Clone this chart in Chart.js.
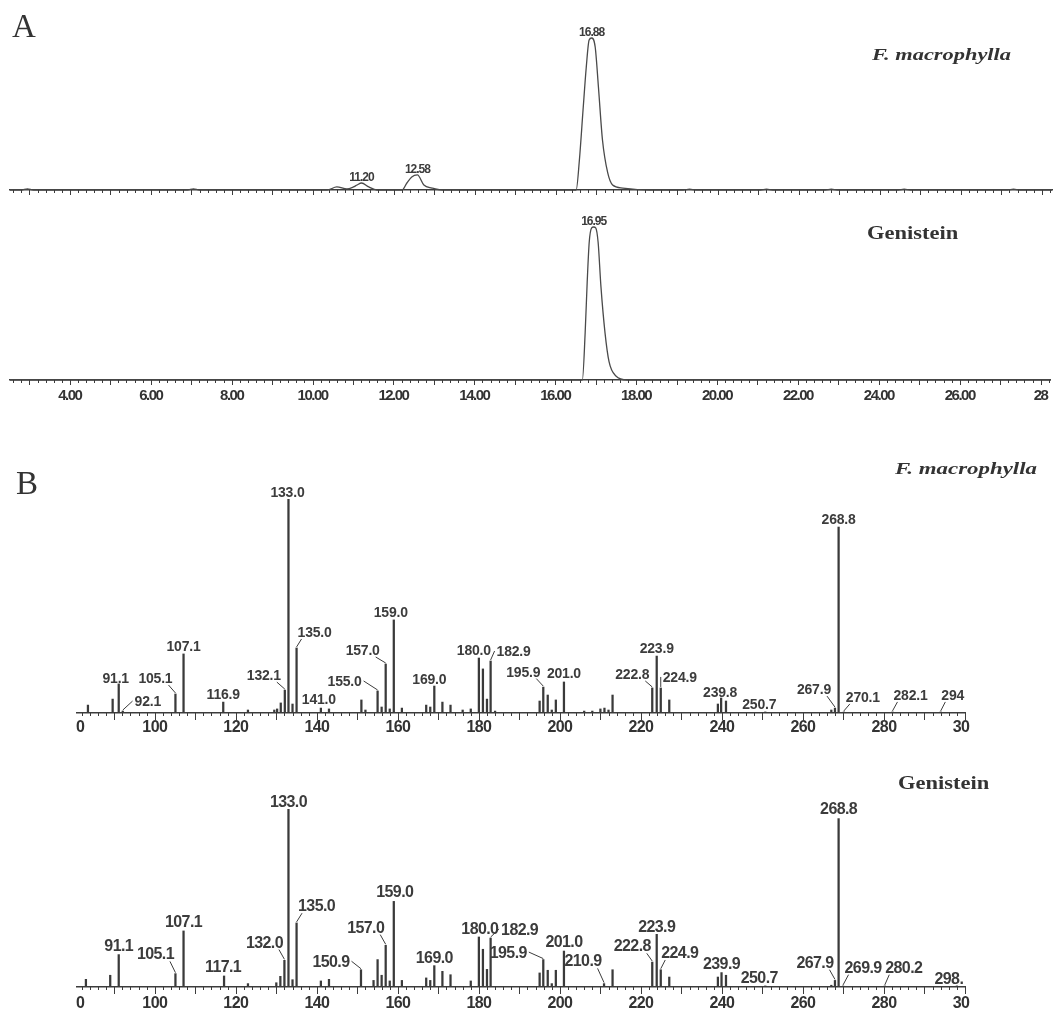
<!DOCTYPE html>
<html>
<head>
<meta charset="utf-8">
<script src="https://cdn.jsdelivr.net/npm/chart.js@4.4.1/dist/chart.umd.min.js"></script>
<style>
  html, body { margin: 0; padding: 0; background: #fff; }
  #wrap { position: relative; width: 1056px; height: 1012px; overflow: hidden; }
  #wrap canvas { position: absolute; left: 0; top: 0; }
  .t { position: absolute; color: #333; white-space: nowrap; line-height: 1; transform-origin: 0 0;
       font-family: 'Liberation Serif', 'Times New Roman', serif; }
</style>
</head>
<body>
<div id="wrap">
  <canvas id="chromFm" width="1056" height="1012"></canvas>
  <canvas id="chromGn" width="1056" height="1012"></canvas>
  <canvas id="msFm" width="1056" height="1012"></canvas>
  <canvas id="msGn" width="1056" height="1012"></canvas>

  <div class="t" style="left:12px;top:10px;font-size:33px;">A</div>
  <div class="t" style="left:872px;top:47px;font-size:16px;font-weight:bold;font-style:italic;transform:scaleX(1.4);">F. macrophylla</div>
  <div class="t" style="left:867px;top:224px;font-size:18px;font-weight:bold;transform:scaleX(1.25);">Genistein</div>
  <div class="t" style="left:16px;top:467px;font-size:33px;">B</div>
  <div class="t" style="left:895px;top:461px;font-size:16px;font-weight:bold;font-style:italic;transform:scaleX(1.43);">F. macrophylla</div>
  <div class="t" style="left:898px;top:774px;font-size:18px;font-weight:bold;transform:scaleX(1.25);">Genistein</div>
</div>
<script>
// ---- panel A : chromatograms (time in min, response in % of main peak)
const fmTime = [2.52, 2.8, 2.95, 3.1, 6.9, 7.05, 7.2, 10.35, 10.59, 10.84, 11.0, 11.09, 11.2, 11.38, 11.58,
  12.2, 12.32, 12.44, 12.58, 12.74, 12.94, 13.19, 16.5, 16.58, 16.67, 16.75, 16.82, 16.88, 16.97, 17.05,
  17.15, 17.28, 17.4, 17.65, 18.3, 19.15, 19.3, 19.45, 21.05, 21.2, 21.35, 22.65, 22.8, 22.95, 24.45,
  24.6, 24.75, 27.15, 27.3, 27.45, 28.25];
const fmResp = [0, 0, 0.7, 0, 0, 0.7, 0, 0, 2.0, 0.7, 2.0, 3.3, 4.6, 2.0, 0,
  0, 4.6, 8.6, 9.9, 3.3, 1.3, 0, 0, 19.7, 52.6, 80.9, 98.7, 100, 94.1, 67.8,
  32.9, 11.2, 3.3, 1.3, 0, 0, 0.6, 0, 0, 0.6, 0, 0, 0.6, 0, 0,
  0.6, 0, 0, 0.6, 0, 0];
const fmPeaks = ['11.20', '12.58', '16.88'];

const gnTime = [2.52, 16.67, 16.74, 16.79, 16.84, 16.9, 16.95, 17.0, 17.06, 17.13, 17.23, 17.33, 17.5, 17.78, 28.25];
const gnResp = [0, 0, 31, 64, 90, 99.4, 100, 99.4, 90, 61, 31, 12, 2.6, 0, 0];
const gnPeaks = ['16.95'];

const timeTicks = [4, 6, 8, 10, 12, 14, 16, 18, 20, 22, 24, 26, 28];
const timeTickText = ['4.00', '6.00', '8.00', '10.00', '12.00', '14.00', '16.00', '18.00', '20.00', '22.00', '24.00', '26.00', '28'];

// ---- panel B : mass spectra (m/z, relative abundance %)
const fmMz = [83.5, 89.6, 91.1, 92.1, 105.1, 107.1, 116.9, 123.0, 129.5, 130.2, 131.1, 132.1, 133.0, 134.0, 135.0,
  141.0, 143.0, 151.0, 152.0, 155.0, 156.0, 157.0, 158.0, 159.0, 161.0, 167.0, 168.0, 169.0, 171.0, 173.0,
  176.0, 178.0, 180.0, 181.0, 182.0, 182.9, 184.0, 195.0, 195.9, 197.0, 198.0, 199.0, 201.0, 206.0, 208.0,
  210.0, 211.0, 212.0, 213.0, 222.8, 223.9, 224.9, 227.0, 239.0, 239.8, 241.0, 250.7, 267.0, 267.9, 268.8,
  270.1, 282.1, 294.0];
const fmInt = [3.7, 6.5, 13.6, 0.9, 8.9, 27.6, 5.1, 1.4, 1.4, 1.9, 4.7, 10.7, 100, 4.2, 30.4,
  2.3, 1.9, 6.1, 1.4, 10.3, 2.8, 22.9, 1.9, 43.5, 2.3, 3.7, 2.8, 12.6, 5.1, 3.7,
  1.4, 1.9, 25.7, 20.6, 6.5, 24.3, 0.9, 5.6, 12.1, 8.4, 1.4, 6.1, 14.5, 0.9, 0.9,
  1.9, 2.3, 1.4, 8.4, 11.7, 26.6, 11.7, 6.1, 4.2, 7.0, 5.6, 0.5, 1.4, 2.3, 86.9,
  0.5, 0.5, 0.5];
const fmLabels = ['91.1', '92.1', '105.1', '107.1', '116.9', '132.1', '133.0', '135.0', '141.0', '155.0', '157.0',
  '159.0', '169.0', '180.0', '182.9', '195.9', '201.0', '222.8', '223.9', '224.9', '239.8', '250.7', '267.9',
  '268.8', '270.1', '282.1', '294'];

const gnMz = [83.0, 89.0, 91.1, 105.1, 107.1, 117.1, 123.0, 130.0, 131.0, 132.0, 133.0, 134.0, 135.0, 141.0, 143.0,
  150.9, 154.0, 155.0, 156.0, 157.0, 158.0, 159.0, 161.0, 167.0, 168.0, 169.0, 171.0, 173.0, 178.0, 180.0,
  181.0, 182.0, 182.9, 195.0, 195.9, 197.0, 198.0, 199.0, 201.0, 210.9, 213.0, 222.8, 223.9, 224.9, 227.0,
  239.0, 239.9, 241.0, 250.7, 267.0, 267.9, 268.8, 269.9, 280.2, 298.0];
const gnInt = [4.3, 6.6, 18.2, 7.5, 31.5, 6.2, 1.9, 2.4, 6.0, 15.0, 100, 4.1, 36.0, 3.4, 4.3,
  9.7, 3.7, 15.4, 6.6, 23.4, 3.4, 48.1, 3.7, 5.1, 3.7, 12.0, 8.8, 6.9, 3.4, 28.1,
  21.2, 9.9, 27.5, 7.9, 15.4, 9.4, 1.9, 9.4, 20.2, 1.9, 9.7, 14.0, 29.6, 9.7, 5.6,
  5.6, 8.1, 6.6, 0.6, 1.0, 3.7, 94.6, 0.6, 0.6, 0.6];
const gnLabels = ['91.1', '105.1', '107.1', '117.1', '132.0', '133.0', '135.0', '150.9', '157.0', '159.0', '169.0',
  '180.0', '182.9', '195.9', '201.0', '210.9', '222.8', '223.9', '224.9', '239.9', '250.7', '267.9', '268.8',
  '269.9', '280.2', '298.'];

const mzTicks = [81.6, 100, 120, 140, 160, 180, 200, 220, 240, 260, 280, 299];
const mzTickText = ['0', '100', '120', '140', '160', '180', '200', '220', '240', '260', '280', '30'];

// label placement (pixels: dx from the bar, rise of label centre above bar top)
const fmLabelPos = {
  '91.1': [-3, 6], '92.1': [25, 10], '105.1': [-20, 16], '107.1': [0, 7.5], '116.9': [0, 8], '132.1': [-21, 15],
  '133.0': [-1, 7.5], '135.0': [18, 16], '141.0': [-2, 9], '155.0': [-33, 10], '157.0': [-23, 14], '159.0': [-3, 8],
  '169.0': [-5, 7], '180.0': [-5, 8], '182.9': [23, 10], '195.9': [-20, 15.5], '201.0': [0, 9], '222.8': [-20, 14],
  '223.9': [0, 8], '224.9': [19, 11], '239.8': [-1, 6], '250.7': [-6, 8], '267.9': [-21, 19], '268.8': [0, 8],
  '270.1': [19, 15], '282.1': [18, 17], '294': [12, 17]
};
const gnLabelPos = {
  '91.1': [0, 9.5], '105.1': [-20, 20], '107.1': [0, 9.5], '117.1': [-1, 10], '132.0': [-20, 18.5], '133.0': [0, 8],
  '135.0': [20, 17.5], '150.9': [-30, 8.5], '157.0': [-20, 18.5], '159.0': [1, 10.5], '169.0': [0, 8.5],
  '180.0': [1, 9], '182.9': [29, 9], '195.9': [-35, 7.5], '201.0': [0, 10], '210.9': [-21, 23], '222.8': [-20, 16.5],
  '223.9': [0, 8], '224.9': [19, 17.5], '239.9': [0, 9.5], '250.7': [-6, 9], '267.9': [-20, 18.5], '268.8': [0, 10],
  '269.9': [20, 19], '280.2': [19, 19], '298.': [-8, 8]
};

const INK = '#3c3c3c';
const SANS = "'Liberation Sans', Arial, sans-serif";

// tighter letter spacing for the axis labels (chart.js has no option for it)
const letterSpace = {
  id: 'letterSpace',
  beforeDraw(chart, args, opts) { chart.ctx.letterSpacing = opts.value || '0px'; },
  afterDraw(chart) { chart.ctx.letterSpacing = '0px'; }
};

// small + large tick marks hanging under the x axis line
const axisTicks = {
  id: 'axisTicks',
  afterDraw(chart, args, opts) {
    if (!opts.step) return;
    const { ctx, chartArea } = chart;
    const x = chart.scales.x;
    const y0 = chartArea.bottom;
    ctx.save();
    ctx.strokeStyle = INK;
    ctx.lineWidth = 1;
    const n0 = Math.ceil(x.min / opts.step - 1e-9);
    const n1 = Math.floor(x.max / opts.step + 1e-9);
    for (let n = n0; n <= n1; n++) {
      const v = n * opts.step;
      const r = v / opts.major;
      const major = Math.abs(r - Math.round(r)) < 1e-6;
      const px = Math.round(x.getPixelForValue(v)) + 0.5;
      ctx.beginPath();
      ctx.moveTo(px, y0);
      ctx.lineTo(px, y0 + (major ? opts.majorLen : opts.minorLen));
      ctx.stroke();
    }
    ctx.restore();
  }
};

// peak labels, with a leader line when the label sits to one side
const peakLabels = {
  id: 'peakLabels',
  afterDatasetsDraw(chart, args, opts) {
    if (!opts.labels) return;
    const { ctx } = chart;
    const x = chart.scales.x, y = chart.scales.y;
    const pts = chart.data.datasets[0].data;
    ctx.save();
    ctx.font = opts.font;
    ctx.fillStyle = INK;
    ctx.strokeStyle = INK;
    ctx.lineWidth = 1;
    ctx.textAlign = 'center';
    ctx.textBaseline = 'alphabetic';
    ctx.letterSpacing = opts.spacing || '0px';
    opts.labels.forEach(text => {
      const v = parseFloat(text);
      let best = pts[0];
      pts.forEach(p => { if (Math.abs(p.x - v) < Math.abs(best.x - v)) best = p; });
      const bx = x.getPixelForValue(best.x);
      const by = y.getPixelForValue(best.y);
      const off = (opts.pos && opts.pos[text]) || [0, opts.gap];
      const cx = bx + off[0];
      const cy = by - off[1];
      const w = ctx.measureText(text).width;
      ctx.fillText(text, cx, cy + opts.cap / 2);
      if (Math.abs(off[0]) >= 12) {
        const side = off[0] < 0 ? 1 : -1;
        let ex = cx + side * (w / 2 - 4);
        let ey = cy + opts.cap / 2 + 2;
        if (by - ey < 6) {
          ex = cx + side * (w / 2 + 2);
          ey = cy;
        }
        ctx.beginPath();
        ctx.moveTo(bx, by - 1);
        ctx.lineTo(ex, ey);
        ctx.stroke();
      }
    });
    ctx.restore();
  }
};

Chart.register(letterSpace, axisTicks, peakLabels);

function toPoints(xs, ys) {
  return xs.map((v, i) => ({ x: v, y: ys[i] }));
}

function chromChart(id, time, resp, peaks, pad, showLabels) {
  return new Chart(document.getElementById(id), {
    type: 'line',
    data: {
      datasets: [{
        data: toPoints(time, resp),
        borderColor: '#4a4a4a',
        borderWidth: 1.3,
        pointRadius: 0,
        cubicInterpolationMode: 'monotone',
        clip: 6
      }]
    },
    options: {
      responsive: false,
      animation: false,
      devicePixelRatio: 1,
      events: [],
      layout: { padding: pad },
      plugins: {
        legend: { display: false },
        tooltip: { enabled: false },
        letterSpace: { value: '-1.5px' },
        axisTicks: { step: 0.2, major: 1, minorLen: 3, majorLen: 5 },
        peakLabels: { labels: peaks, gap: 6, cap: 8.6, font: 'bold 12px ' + SANS, spacing: '-1px' }
      },
      scales: {
        x: {
          type: 'linear',
          min: 2.52,
          max: 28.25,
          grid: { display: false, drawTicks: false },
          border: { display: true, color: INK, width: 1.5 },
          afterBuildTicks: s => { s.ticks = timeTicks.map(v => ({ value: v })); },
          afterFit: s => { s.height = showLabels ? 24 : 20; },
          ticks: {
            display: showLabels,
            autoSkip: false,
            maxRotation: 0,
            padding: 7,
            color: '#333',
            font: { family: SANS, size: 15, weight: 'bold' },
            callback: (v, i) => timeTickText[i]
          }
        },
        y: { display: false, min: 0, max: 100 }
      }
    }
  });
}

function specChart(id, mz, inten, labels, pos, pad, labelFont, cap, spacing, tickPad) {
  return new Chart(document.getElementById(id), {
    type: 'bar',
    data: {
      datasets: [{
        data: toPoints(mz, inten),
        backgroundColor: '#3a3a3a',
        borderWidth: 0,
        barThickness: 1.6
      }]
    },
    options: {
      responsive: false,
      animation: false,
      devicePixelRatio: 1,
      events: [],
      layout: { padding: pad },
      plugins: {
        legend: { display: false },
        tooltip: { enabled: false },
        letterSpace: { value: '-0.6px' },
        axisTicks: { step: 2, major: 10, minorLen: 3, majorLen: 7 },
        peakLabels: { labels: labels, pos: pos, gap: 8, cap: cap, font: labelFont, spacing: spacing }
      },
      scales: {
        x: {
          type: 'linear',
          min: 80.8,
          max: 300,
          offset: false,
          grid: { display: false, drawTicks: false, offset: false },
          border: { display: true, color: INK, width: 1.5 },
          afterBuildTicks: s => { s.ticks = mzTicks.map(v => ({ value: v })); },
          afterFit: s => { s.height = 24; },
          ticks: {
            autoSkip: false,
            maxRotation: 0,
            padding: tickPad,
            color: '#333',
            font: { family: SANS, size: 16, weight: 'bold' },
            callback: (v, i) => mzTickText[i]
          }
        },
        y: { display: false, min: 0, max: 100 }
      }
    }
  });
}

chromChart('chromFm', fmTime, fmResp, fmPeaks, { left: 10, right: 4, top: 38, bottom: 802 }, false);
chromChart('chromGn', gnTime, gnResp, gnPeaks, { left: 10, right: 4, top: 227, bottom: 608 }, true);
specChart('msFm', fmMz, fmInt, fmLabels, fmLabelPos, { left: 77, right: 91, top: 499, bottom: 275 },
  'bold 14px ' + SANS, 10, '-0.2px', 5);
specChart('msGn', gnMz, gnInt, gnLabels, gnLabelPos, { left: 77, right: 91, top: 809, bottom: 1 },
  'bold 16px ' + SANS, 11.5, '-0.6px', 7);
</script>
</body>
</html>
